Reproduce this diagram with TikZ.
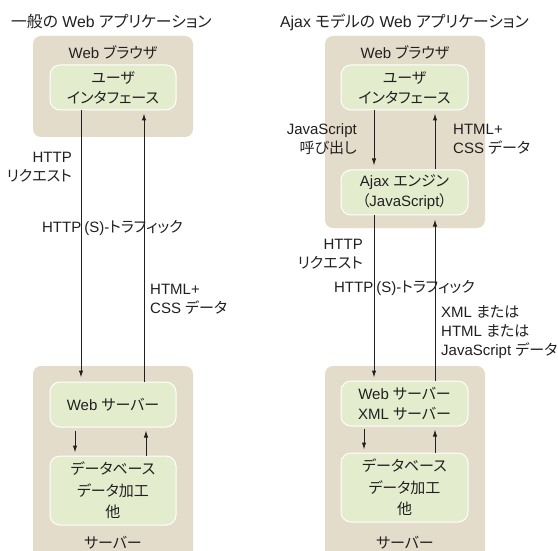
\documentclass[tikz,border=0pt]{standalone}
\usepackage{fontspec}
\setmainfont{Liberation Sans}
\newfontfamily\jpf[RawFeature={+palt}]{Noto Sans CJK JP}
\newcommand\jtx[1]{{\jpf #1}}
\usetikzlibrary{arrows.meta,calc}
\definecolor{tan}{HTML}{E4DCCB}
\definecolor{pale}{HTML}{E3EDCE}
\definecolor{ink}{HTML}{231F20}
\tikzset{
  outerbox/.style={fill=tan,rounded corners=8pt,inner sep=0pt},
  innerbox/.style={fill=pale,draw=white,line width=1pt,rounded corners=10pt,inner sep=0pt,align=center,text=ink,font=\fontsize{15}{20}\selectfont},
  lbl/.style={inner sep=0pt,text=ink,font=\fontsize{15}{19}\selectfont},
  ttl/.style={inner sep=0pt,text=ink,font=\fontsize{15.8}{19}\selectfont},
  arr/.style={draw=ink,line width=1pt,-{Latex[length=7pt,width=4.5pt]}}
}
\begin{document}
\begin{tikzpicture}[x=1pt,y=-1pt]
\useasboundingbox (0,0) rectangle (558,551);
\clip (0,0) rectangle (558,551);
\fill[white] (0,0) rectangle (558,551);
% titles
\node[ttl,anchor=west] (t1) at (11,22) {\jtx{一般の} Web \jtx{アプリケーション}};
\node[ttl,anchor=west] (t2) at (280,22) {Ajax \jtx{モデルの} Web \jtx{アプリケーション}};
% ---------- left ----------
\node[outerbox,minimum width=160pt,minimum height=101pt] (lb) at (113,86.5) {};
\node[lbl] (lbt) at (113,53) {Web \jtx{ブラウザ}};
\node[innerbox,minimum width=126pt,minimum height=45pt] (lui) at (113,87.5) {\jtx{ユーザ}\\\jtx{インタフェース}};
\node[outerbox,minimum width=160pt,minimum height=200pt] (ls) at (113,466) {};
\node[innerbox,minimum width=126pt,minimum height=45pt] (lws) at (113,404.5) {Web \jtx{サーバー}};
\node[innerbox,minimum width=126pt,minimum height=69pt,font=\fontsize{15}{21.5}\selectfont] (ldb) at (113,490.5) {\jtx{データベース}\\\jtx{データ加工}\\\jtx{他}};
\node[lbl] (lst) at (113,543) {\jtx{サーバー}};
\coordinate (lx1) at (81,0);
\coordinate (lx2) at (144,0);
\coordinate (lx3) at (75,0);
\coordinate (lx4) at (146,0);
\draw[arr] (lui.south -| lx1) -- ([yshift=4pt]lws.north -| lx1);
\draw[arr] (lws.north -| lx2) -- ([yshift=-3pt]lui.south -| lx2);
\draw[arr] ([yshift=-3pt]lws.south -| lx3) -- ([yshift=3pt]ldb.north -| lx3);
\draw[arr] (ldb.north -| lx4) -- ([yshift=-3pt]lws.south -| lx4);
\node[lbl,anchor=east,align=right] (lreq) at (72,167.5) {HTTP\\\jtx{リクエスト}};
\node[lbl] (ltr) at (112.5,228) {HTTP\hspace{3pt}(S)-\jtx{トラフィック}};
\node[lbl,anchor=west,align=left] (lhtml) at (150,299) {HTML+\\CSS \jtx{データ}};
% ---------- right ----------
\node[outerbox,minimum width=160pt,minimum height=192pt] (rb) at (405,132) {};
\node[lbl] (rbt) at (405,53) {Web \jtx{ブラウザ}};
\node[innerbox,minimum width=127pt,minimum height=45pt] (rui) at (404.5,87.5) {\jtx{ユーザ}\\\jtx{インタフェース}};
\node[innerbox,minimum width=127pt,minimum height=45pt] (raj) at (404.5,192.5) {Ajax \jtx{エンジン}\\\jtx{（}JavaScript\jtx{）}};
\node[outerbox,minimum width=160pt,minimum height=200pt] (rs) at (405,466) {};
\node[innerbox,minimum width=127pt,minimum height=45pt] (rws) at (404.5,403.5) {Web \jtx{サーバー}\\XML \jtx{サーバー}};
\node[innerbox,minimum width=127pt,minimum height=69pt,font=\fontsize{15}{21.5}\selectfont] (rdb) at (404.5,487.5) {\jtx{データベース}\\\jtx{データ加工}\\\jtx{他}};
\node[lbl] (rst) at (405,543) {\jtx{サーバー}};
\coordinate (rx1) at (374,0);
\coordinate (rx2) at (435,0);
\coordinate (rx3) at (364,0);
\draw[arr] (rui.south -| rx1) -- ([yshift=4pt]raj.north -| rx1);
\draw[arr] (raj.north -| rx2) -- ([yshift=-3pt]rui.south -| rx2);
\draw[arr] (raj.south -| rx1) -- ([yshift=3pt]rws.north -| rx1);
\draw[arr] (rws.north -| rx2) -- ([yshift=-4pt]raj.south -| rx2);
\draw[arr] ([yshift=-2pt]rws.south -| rx3) -- ([yshift=3pt]rdb.north -| rx3);
\draw[arr] (rdb.north -| rx2) -- ([yshift=-3pt]rws.south -| rx2);
\node[lbl,anchor=east,align=right] (rjs) at (357,139) {JavaScript\\\jtx{呼び出し}};
\node[lbl,anchor=west,align=left] (rhtml) at (453,139) {HTML+\\CSS \jtx{データ}};
\node[lbl,anchor=east,align=right] (rreq) at (363,254) {HTTP\\\jtx{リクエスト}};
\node[lbl] (rtr) at (404.5,288) {HTTP\hspace{3pt}(S)-\jtx{トラフィック}};
\node[lbl,anchor=west,align=left] (rxml) at (441,332) {XML \jtx{または}\\HTML \jtx{または}\\JavaScript \jtx{データ}};
\end{tikzpicture}
\end{document}
